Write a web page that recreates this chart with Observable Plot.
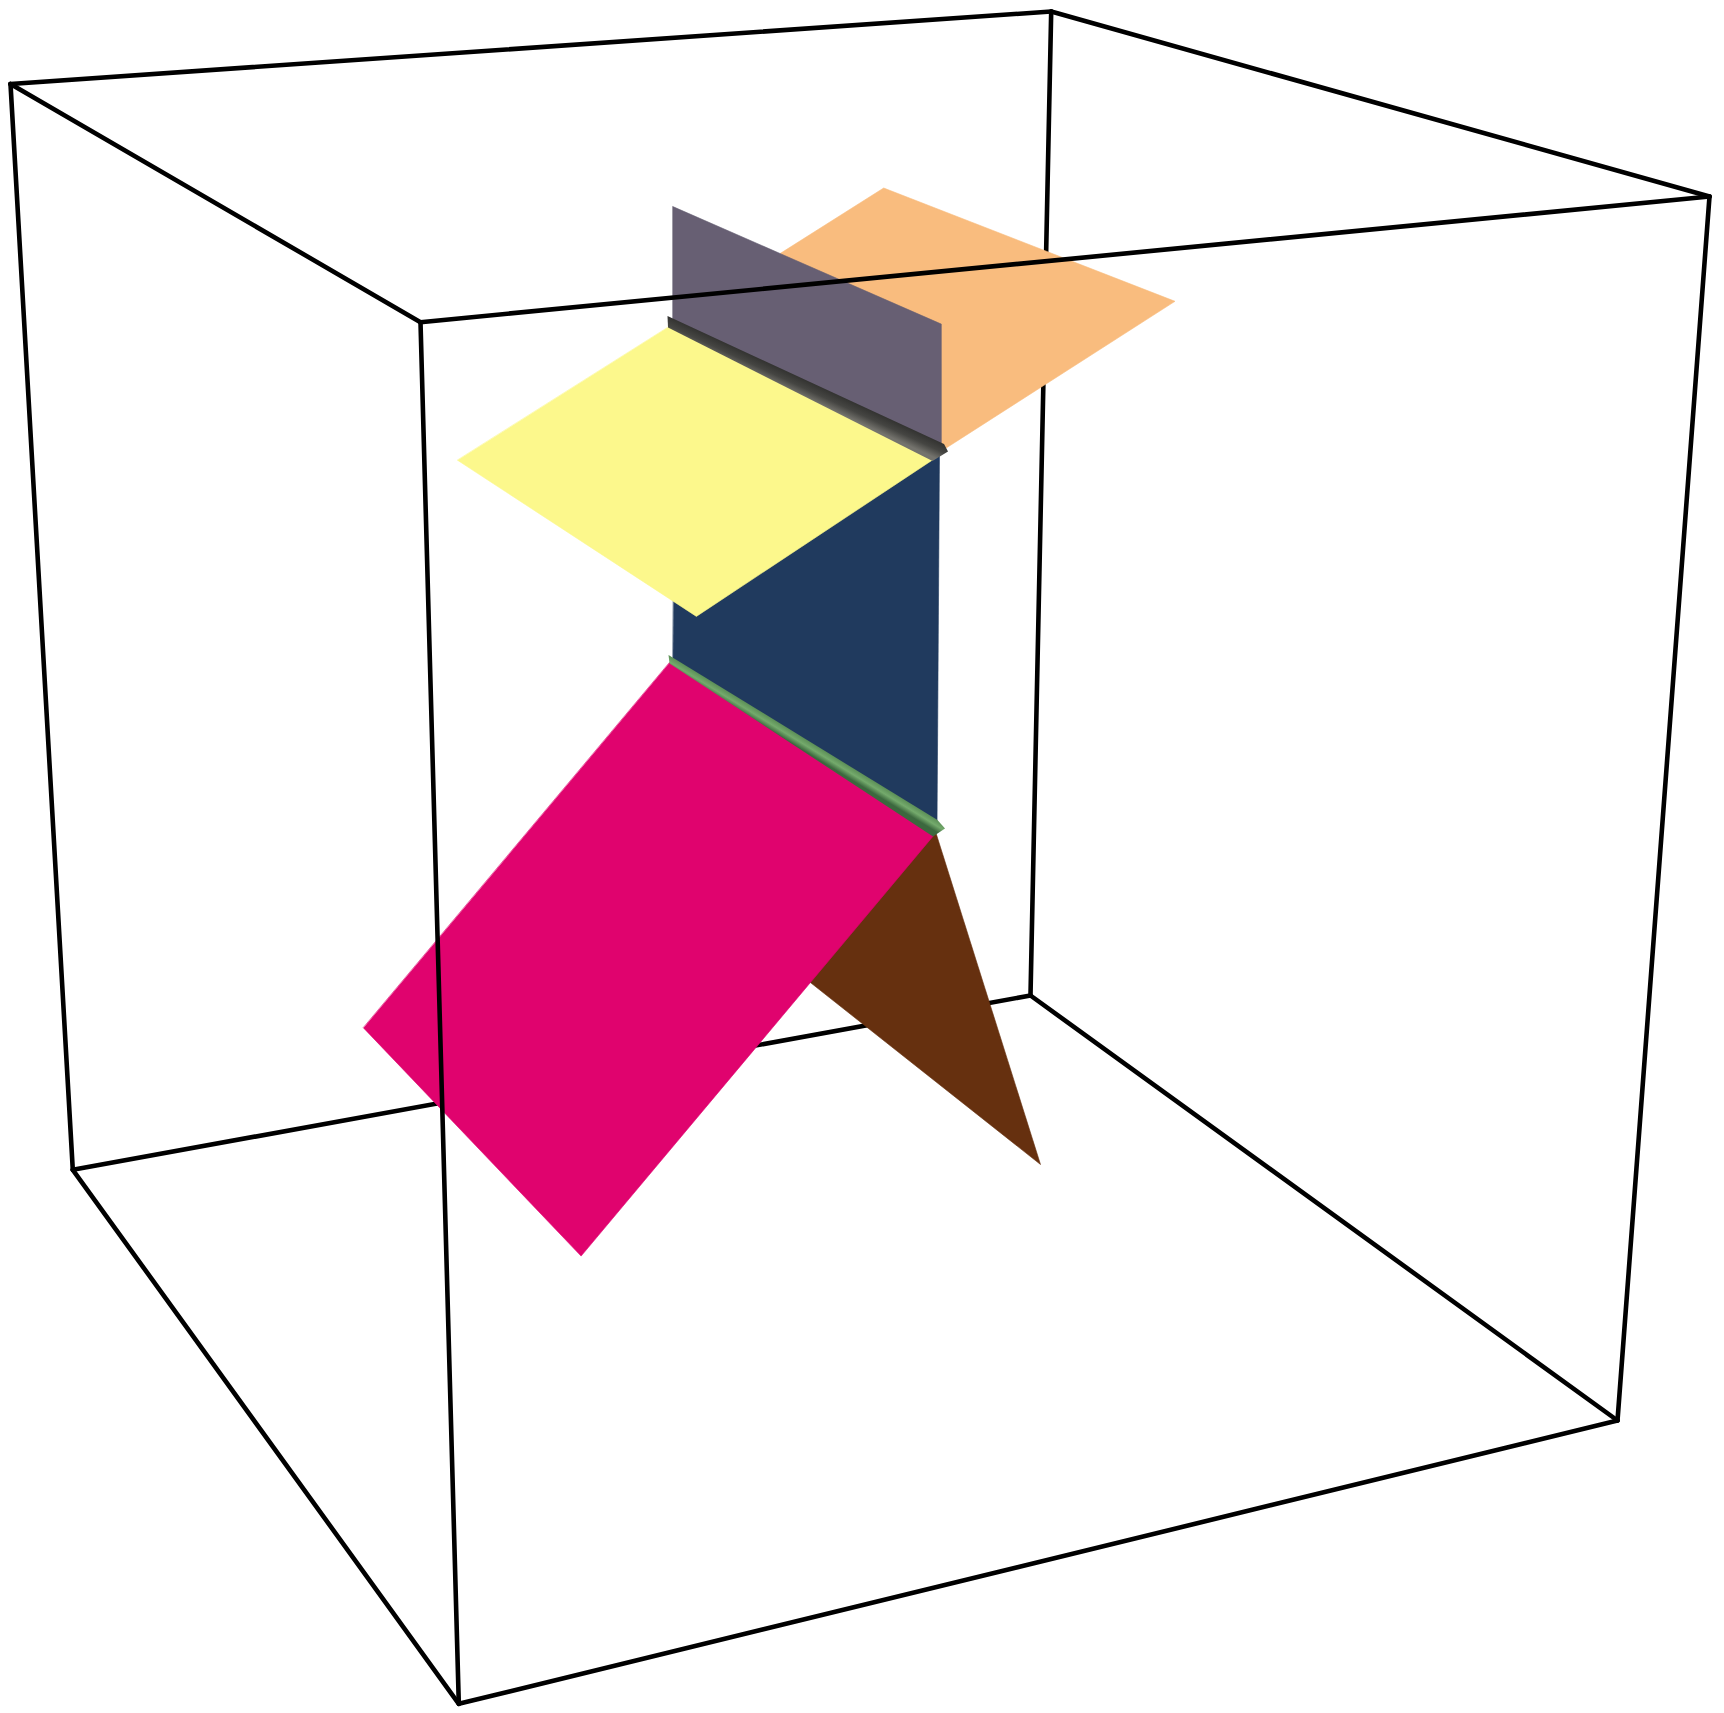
<!DOCTYPE html>
<html>
<head>
<meta charset="utf-8">
<script src="https://cdn.jsdelivr.net/npm/d3@7"></script>
<script src="https://cdn.jsdelivr.net/npm/@observablehq/plot@0.6"></script>
<style>
  html, body { margin: 0; padding: 0; background: #fff; }
  #chart svg { display: block; }
</style>
</head>
<body>
<div id="chart"></div>
<script>
// Box corners (projected picture coordinates)
const cornerNames = ["A", "B", "C", "D", "E", "F", "G", "H"];
const cornerX = [10, 1050.7, 1709, 420, 72.3, 1030, 1617, 458.3];
const cornerY = [83.5, 11, 196, 321.7, 1169.3, 995, 1420, 1703.3];

// Box edges: far side (drawn beneath the planes) and near side (drawn on top)
const backEdges = [["A", "B"], ["B", "C"], ["B", "F"], ["E", "F"], ["F", "G"], ["A", "E"], ["C", "G"]];
const frontEdges = [["D", "A"], ["D", "C"], ["D", "H"], ["H", "E"], ["H", "G"]];

// Planes (visible outlines), back to front
const faceNames = ["orange", "purple", "navy", "yellow", "brown", "pink"];
const faceColors = ["#f9bc7e", "#675f73", "#203a5e", "#fcf88c", "#66300f", "#e0036e"];
const orangeX = [780, 883.2, 1174.5, 941.8];
const orangeY = [252.8, 187.5, 300.8, 450];
const purpleX = [672.4, 940.8, 940.8, 672.4];
const purpleY = [206.1, 323.6, 450, 321.2];
const navyX = [675.3, 939, 936.5, 672.5];
const navyY = [321, 450, 826, 661];
const yellowX = [668.9, 933.2, 695.9, 457.1];
const yellowY = [326.1, 458.7, 615.9, 459.8];
const brownX = [935, 1040, 798.5, 860];
const brownY = [831, 1164, 973, 900];
const pinkX = [669.3, 933.4, 580.6, 363];
const pinkY = [662.1, 834.7, 1255.6, 1027.4];

// Intersection lines (shaded tubes), outline of each band
const grayBandX = [667, 943.5, 947.5, 932, 667.5];
const grayBandY = [315.5, 443.5, 451, 460.5, 327];
const grayBandShades = ["#333331", "#454542", "#74736d"];
const greenBandX = [668, 937, 944.5, 932.5, 669];
const greenBandY = [654.5, 819.5, 828, 836, 663];
const greenBandShades = ["#5c8f57", "#74aa6c", "#3c683e"];

const faceXs = [orangeX, purpleX, navyX, yellowX, brownX, pinkX];
const faceYs = [orangeY, purpleY, navyY, yellowY, brownY, pinkY];

const corner = Object.fromEntries(cornerNames.map((n, i) => [n, [cornerX[i], cornerY[i]]]));
const pts = (xs, ys) => xs.map((x, i) => ({x, y: ys[i]}));
const faceMark = (k) => Plot.line(pts(faceXs[k], faceYs[k]), {
  x: "x", y: "y", curve: "linear-closed",
  fill: faceColors[k], stroke: faceColors[k], strokeWidth: 0.6
});
const edgeMark = (edges) => Plot.link(edges, {
  x1: d => corner[d[0]][0], y1: d => corner[d[0]][1],
  x2: d => corner[d[1]][0], y2: d => corner[d[1]][1],
  stroke: "#000", strokeWidth: 4.6, strokeLinecap: "round", strokeLinejoin: "round"
});
const bandMark = (xs, ys, id) => Plot.line(pts(xs, ys), {
  x: "x", y: "y", curve: "linear-closed", fill: `url(#${id})`, stroke: "none"
});

const chart = Plot.plot({
  width: 1724,
  height: 1713,
  margin: 0,
  x: {domain: [0, 1724], range: [0, 1724], axis: null},
  y: {domain: [0, 1713], range: [0, 1713], axis: null},
  style: {background: "#fff"},
  marks: [
    edgeMark(backEdges),
    ...faceNames.map((_, k) => faceMark(k)),
    bandMark(grayBandX, grayBandY, "grayTube"),
    bandMark(greenBandX, greenBandY, "greenTube"),
    edgeMark(frontEdges)
  ]
});

// Gradients across each band (perpendicular to its long edge), from the band outline
const sx = chart.scale("x"), sy = chart.scale("y");
const defs = d3.select(chart).insert("defs", ":first-child");
function addGradient(id, xs, ys, shades) {
  const x0 = sx.apply(xs[0]), y0 = sy.apply(ys[0]);
  const x1 = sx.apply(xs[1]), y1 = sy.apply(ys[1]);
  const xl = sx.apply(xs[xs.length - 1]), yl = sy.apply(ys[ys.length - 1]);
  const len = Math.hypot(x1 - x0, y1 - y0);
  const nx = -(y1 - y0) / len, ny = (x1 - x0) / len;
  const mx = (x0 + x1) / 2, my = (y0 + y1) / 2;
  const w = Math.abs((xl - x0) * nx + (yl - y0) * ny) * 1.6;
  const g = defs.append("linearGradient").attr("id", id)
    .attr("gradientUnits", "userSpaceOnUse")
    .attr("x1", mx).attr("y1", my).attr("x2", mx + nx * w).attr("y2", my + ny * w);
  shades.forEach((c, i) => g.append("stop").attr("offset", i / (shades.length - 1)).attr("stop-color", c));
}
addGradient("grayTube", grayBandX, grayBandY, grayBandShades);
addGradient("greenTube", greenBandX, greenBandY, greenBandShades);

document.getElementById("chart").appendChild(chart);
</script>
</body>
</html>
